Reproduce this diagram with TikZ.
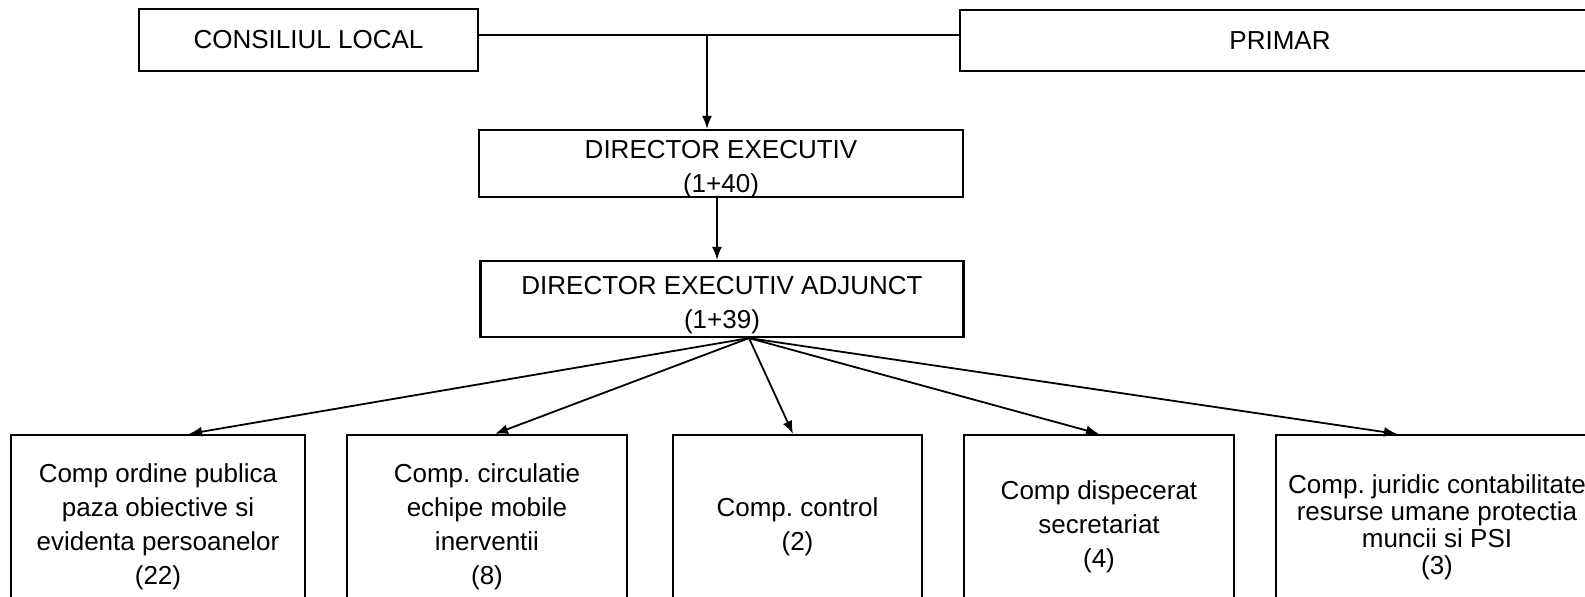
\documentclass[tikz,border=0pt]{standalone}
\usepackage{fontspec}
\setmainfont{Liberation Sans}
\frenchspacing
\usetikzlibrary{arrows.meta}
\tikzset{>={Latex[length=13pt,width=10pt]}}
\tikzset{unit/.style={draw, line width=2.2pt, inner sep=0pt, align=center, font=\fontsize{26}{34}\selectfont},
         comp/.style={unit, minimum height=184pt},
         link/.style={line width=1.8pt}}
\newcommand{\dropline}[1]{\raisebox{-6pt}[\height][\depth]{#1}}

\begin{document}
\begin{tikzpicture}[x=1pt, y=-1pt]
\useasboundingbox (0,0) rectangle (1585,597);
\clip (0,0) rectangle (1585,597);
% top row
\node[unit, minimum width=339pt, minimum height=62pt] (consiliul) at (308.5,40) {CONSILIUL LOCAL};
\node[unit, minimum width=640pt, minimum height=61pt] (primar) at (1280,40.5) {PRIMAR};
\node[unit, minimum width=484pt, minimum height=67pt] (director) at (721,163.5) {\dropline{DIRECTOR EXECUTIV}\\\dropline{(1+40)}};
\node[unit, minimum width=483pt, minimum height=76pt] (adjunct) at (722,299) {\dropline{DIRECTOR EXECUTIV ADJUNCT}\\\dropline{(1+39)}};
% compartimente
\node[comp, minimum width=294pt] (ordine) at (158,527) {Comp ordine publica\\paza obiective si\\evidenta persoanelor\\(22)};
\node[comp, minimum width=280pt] (circulatie) at (487,527) {Comp. circulatie\\echipe mobile\\inerventii\\(8)};
\node[comp, minimum width=249pt] (control) at (797.5,527) {Comp. control\\(2)};
\node[comp, minimum width=270pt] (dispecerat) at (1099,527) {Comp dispecerat\\secretariat\\(4)};
\node[comp, minimum width=322pt, font=\fontsize{26}{27}\selectfont] (juridic) at (1437,527) {Comp. juridic contabilitate\\resurse umane protectia\\muncii si PSI\\(3)};

\coordinate (junc) at (707,35);
\coordinate (fan) at ([xshift=27pt]adjunct.south);
\draw[link] (consiliul.east |- junc) -- (primar.west |- junc);
\path[->, link]
(junc) edge (junc |- director.north)
([xshift=-4pt]director.south) edge ([xshift=-4pt]director.south |- adjunct.north)
(fan)
edge ([xshift=31pt]ordine.north)
edge ([xshift=8pt]circulatie.north)
edge ([xshift=-4.5pt]control.north)
edge (dispecerat.north)
edge ([xshift=-40pt]juridic.north)
;
\end{tikzpicture}
\end{document}
